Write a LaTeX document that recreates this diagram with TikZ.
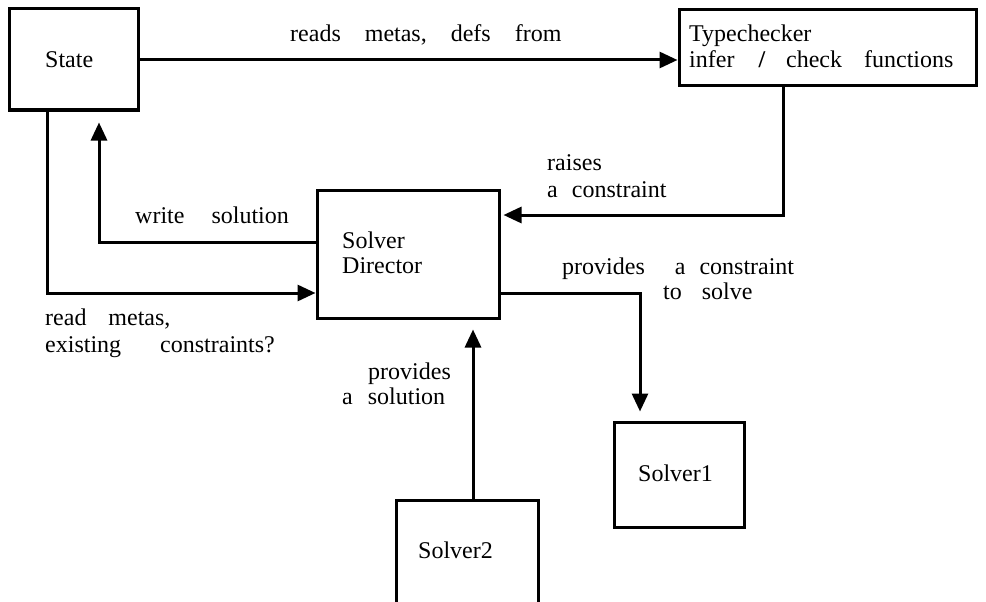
\documentclass[tikz,border=0pt]{standalone}
\usepackage{fontspec}
\setmainfont{Liberation Serif}
\usetikzlibrary{arrows.meta}
\begin{document}
\begin{tikzpicture}[x=1pt,y=-1pt,
  box/.style={draw,line width=3pt,inner sep=0pt,minimum width=#1},
  lbl/.style={inner sep=0pt,anchor=base west,font=\fontsize{24}{26}\selectfont},
  arr/.style={line width=3pt,-{Triangle[length=18pt,width=16pt]}}]
\useasboundingbox (0,0) rectangle (986,602);
\clip (0,0) rectangle (986,602);
% boxes
\node[box=129pt,minimum height=101pt] (state) at (73.5,59.5) {};
\node[box=297pt,minimum height=76pt] (tc) at (827.5,48) {};
\node[box=182pt,minimum height=128pt] (sd) at (408,254) {};
\node[box=130pt,minimum height=105pt] (s1) at (679,474.5) {};
\node[box=142pt,minimum height=120pt] (s2) at (467,560) {};
% box texts
\node[lbl] (tstate) at (45,67) {State};
\node[lbl] (ttc1) at (689,42) {Typechecker};
\node[lbl] (ttc2) at (689,67) {infer\hspace{24pt}{\bfseries/}\hspace{21pt}check\hspace{22pt}functions};
\node[lbl] (tsd1) at (342,248) {Solver};
\node[lbl] (tsd2) at (342,273) {Director};
\node[lbl] (ts1) at (638,481) {Solver1};
\node[lbl] (ts2) at (418,558) {Solver2};
% helper coordinates
\coordinate (c1) at (783,215);
\coordinate (c2) at (99,242);
\coordinate (c3) at (47,293);
\coordinate (c4) at (640,293);
\coordinate (c5) at (473,0);
% connectors
\draw[arr] (state.east |- 0,60) -- (tc.west |- 0,60);
\draw[arr,shorten >=3pt] (c1 |- tc.south) -- (c1) -- (c1 -| sd.east);
\draw[arr,shorten >=11pt] (c2 -| sd.west) -- (c2) -- (c2 |- state.south);
\draw[arr] (c3 |- state.south) -- (c3) -- (c3 -| sd.west);
\draw[arr,shorten >=9pt] (c4 -| sd.east) -- (c4) -- (c4 |- s1.north);
\draw[arr,shorten >=10pt] (c5 |- s2.north) -- (c5 |- sd.south);
% connector labels
\node[lbl] (l1) at (290,42) {reads\hspace{24pt}metas,\hspace{24pt}defs\hspace{24pt}from};
\node[lbl] (l2a) at (547,170) {raises};
\node[lbl] (l2b) at (547,197) {a\hspace{14pt}constraint};
\node[lbl] (l3) at (135,223) {write\hspace{27pt}solution};
\node[lbl] (l4a) at (45,325) {read\hspace{22pt}metas,};
\node[lbl] (l4b) at (45,352) {existing\hspace{39pt}constraints?};
\node[lbl] (l5a) at (562,274) {provides\hspace{30pt}a\hspace{14pt}constraint};
\node[lbl] (l5b) at (663,299) {to\hspace{20pt}solve};
\node[lbl] (l6a) at (368,379) {provides};
\node[lbl] (l6b) at (342,404) {a\hspace{15pt}solution};
\end{tikzpicture}
\end{document}
